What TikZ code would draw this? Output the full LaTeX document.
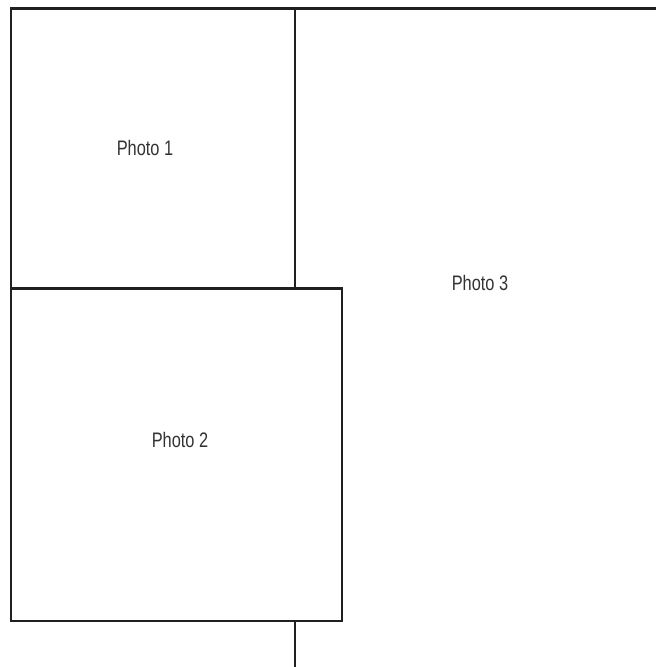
\documentclass[tikz,border=0pt]{standalone}
\usepackage{fontspec}
\setmainfont{Liberation Sans}
\definecolor{linec}{HTML}{231F20}
\definecolor{textc}{HTML}{333333}
\tikzset{
  frame/.style={draw=linec, line width=2.2pt},
  lbl/.style={text=textc, font=\fontsize{21}{24}\selectfont, xscale=0.78, inner sep=0pt}
}
\begin{document}
\begin{tikzpicture}[x=1pt,y=-1pt]
\useasboundingbox (0,0) rectangle (656,667);
\coordinate (tl) at (11,8.5);
\coordinate (tr) at (656,8.5);
\coordinate (mtop) at (295,8.5);
\coordinate (mmid) at (295,288.5);
\coordinate (mbot) at (295,621);
\coordinate (mend) at (295,667);
\coordinate (p2tl) at (11,288.5);
\coordinate (p2br) at (342,621);
\draw[frame] (p2tl) rectangle (p2br);
\draw[frame, line cap=rect] (tl |- mmid) -- (tl) -- (tr);
\draw[frame] (mtop) -- (mmid);
\draw[frame] (mbot) -- (mend);
\node[lbl] (p1) at (145,147.5) {Photo 1};
\node[lbl] (p2) at (180,440) {Photo 2};
\node[lbl] (p3) at (480,283) {Photo 3};
\end{tikzpicture}
\end{document}
